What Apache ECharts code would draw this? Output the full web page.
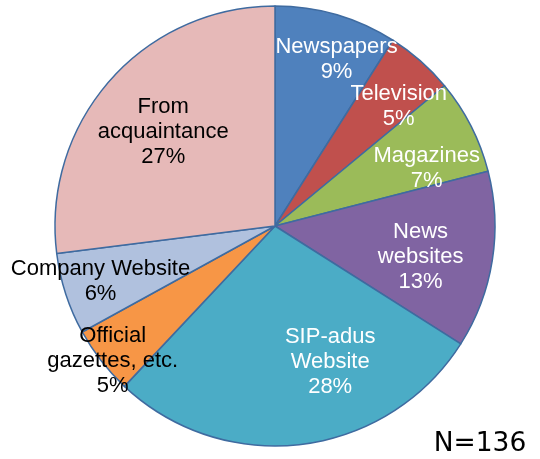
<!DOCTYPE html>
<html>
<head>
<meta charset="utf-8">
<script src="https://cdn.jsdelivr.net/npm/echarts@6/dist/echarts.min.js"></script>
<style>
  html, body { margin: 0; padding: 0; background: #fff; }
  #chart { width: 540px; height: 459px; }
</style>
</head>
<body>
<div id="chart"></div>
<script>
// Information sources, share of respondents (%), clockwise from 12 o'clock
const categories = [
  'Newspapers', 'Television', 'Magazines', 'News\nwebsites', 'SIP-adus\nWebsite',
  'Official\ngazettes, etc.', 'Company Website', 'From\nacquaintance'
];
const shares = [9, 5, 7, 13, 28, 5, 6, 27];
const sampleNote = 'N=136';

const sliceColors = ['#4f81bd', '#c0504d', '#9bbb59', '#8064a2', '#4bacc6', '#f79646', '#b0c1de', '#e6b9b8'];
const labelColors = ['#fff', '#fff', '#fff', '#fff', '#fff', '#000', '#000', '#000'];
// Nudges from the default in-slice label spot
const labelShift = [[30, -58], [49, -35], [51, -6], [34, 13], [41, 24], [-73, 66], [-67, 21], [-27, -19]];

const chart = echarts.init(document.getElementById('chart'), null, { renderer: 'canvas' });

chart.setOption({
  animation: false,
  backgroundColor: '#ffffff',
  graphic: [{
    type: 'text',
    style: {
      x: 480, y: 444,
      text: sampleNote,
      font: '26.5px "DejaVu Sans"',
      fill: '#000',
      textAlign: 'center',
      textVerticalAlign: 'middle'
    }
  }],
  series: [{
    type: 'pie',
    center: [275, 226],
    radius: [0, 220],
    startAngle: 90,
    clockwise: true,
    avoidLabelOverlap: false,
    itemStyle: { borderColor: '#3f6ba0', borderWidth: 1.5 },
    label: {
      show: true,
      position: 'inside',
      fontFamily: '"Liberation Sans", Arial, sans-serif',
      fontSize: 22,
      lineHeight: 25,
      align: 'center',
      formatter: p => p.name + '\n' + p.value + '%'
    },
    labelLine: { show: false },
    labelLayout: p => ({ dx: labelShift[p.dataIndex][0], dy: labelShift[p.dataIndex][1] }),
    emphasis: { disabled: true },
    data: categories.map((name, i) => ({
      name: name,
      value: shares[i],
      itemStyle: { color: sliceColors[i] },
      label: { color: labelColors[i] }
    }))
  }]
});
</script>
</body>
</html>
